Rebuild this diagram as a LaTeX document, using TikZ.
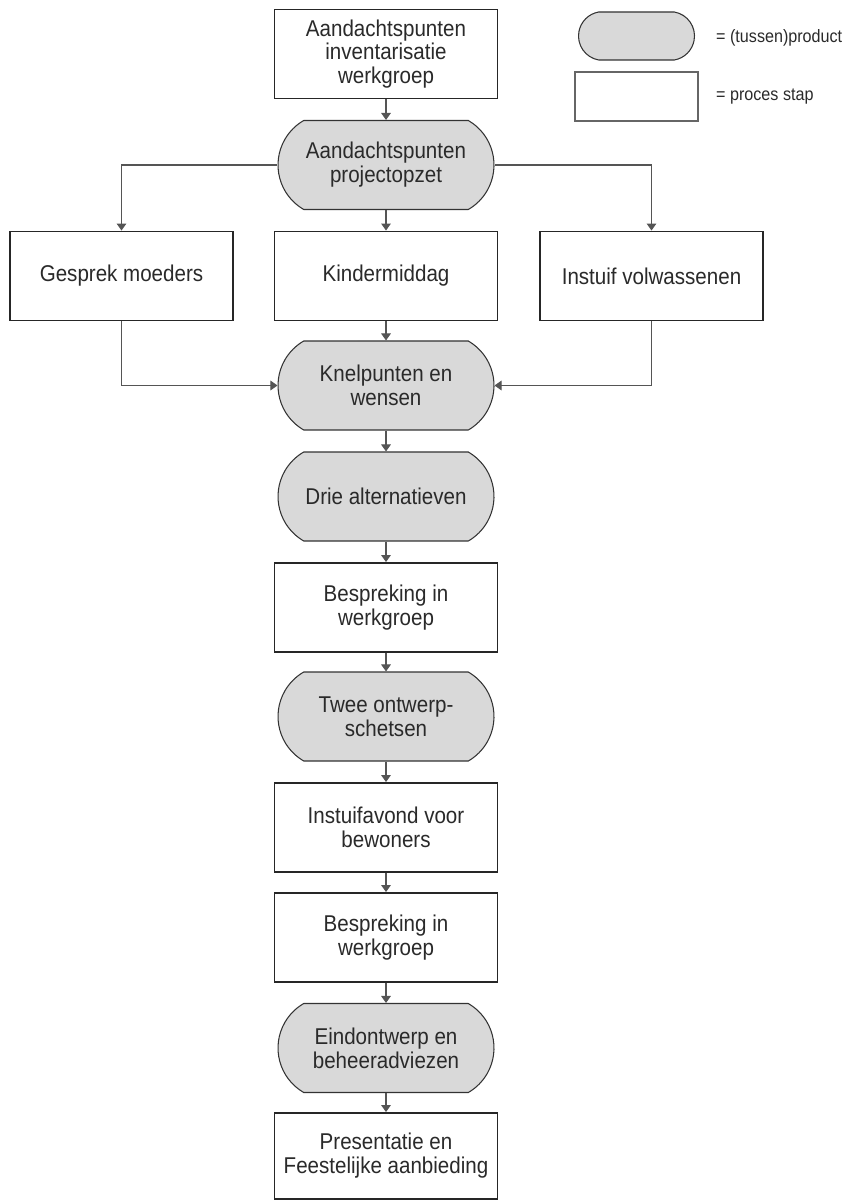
\documentclass[tikz,border=0pt]{standalone}
\usepackage{fontspec}
\setmainfont{Liberation Sans}[FakeStretch=0.9]
\usepackage{tikz}
\usetikzlibrary{shapes.misc,arrows.meta}

\definecolor{vulgrijs}{HTML}{D9D9D9}
\definecolor{tekstgrijs}{HTML}{2A2A2A}
\definecolor{lijngrijs}{HTML}{555555}

\begin{document}
\begin{tikzpicture}[
    stap/.style={draw=black!85, line width=1.1pt, fill=white, rectangle, minimum width=4.46cm, minimum height=1.78cm, align=center, inner sep=2pt, text=tekstgrijs, font=\fontsize{13}{13.6}\selectfont},
    product/.style={draw=black!80, line width=0.6pt, fill=vulgrijs, rounded rectangle, rounded rectangle arc length=120, minimum width=4.46cm, minimum height=1.78cm, align=center, inner sep=2pt, text=tekstgrijs, font=\fontsize{13}{13.6}\selectfont},
    pijl/.style={draw=lijngrijs, line width=0.6pt, -{Triangle[length=4pt,width=5.5pt]}},
    uitleg/.style={anchor=west, text=tekstgrijs, font=\fontsize{10.2}{12}\selectfont}
  ]
      \useasboundingbox (0,0) rectangle (17.3,-24);
      % legenda
      \node[product, rounded rectangle arc length=160, minimum width=2.46cm, minimum height=0.96cm] (legproduct) at (12.73,-0.72) {};
      \node[uitleg] (legproducttekst) at (14.2,-0.76) {= (tussen)product};
      \node[stap, line width=0.6pt, draw=black!60, minimum width=2.46cm, minimum height=0.98cm] (legstap) at (12.73,-1.93) {};
      \node[uitleg] (legstaptekst) at (14.2,-1.94) {= proces stap};
      % schema
      \node[stap] (inventarisatie) at (7.72,-1.08) {Aandachtspunten\\inventarisatie\\werkgroep};
      \node[product] (projectopzet) at (7.72,-3.30) {Aandachtspunten\\projectopzet};
      \node[stap] (gesprek) at (2.43,-5.52) {Gesprek moeders};
      \node[stap] (kindermiddag) at (7.72,-5.52) {Kindermiddag};
      \node[stap] (instuif) at (13.03,-5.52) {Instuif volwassenen};
      \node[product] (knelpunten) at (7.72,-7.71) {Knelpunten en\\wensen};
      \node[product] (alternatieven) at (7.72,-9.93) {Drie alternatieven};
      \node[stap] (bespreking) at (7.72,-12.15) {Bespreking in\\werkgroep};
      \node[product] (schetsen) at (7.72,-14.33) {Twee ontwerp-\\schetsen};
      \node[stap] (instuifavond) at (7.72,-16.55) {Instuifavond voor\\bewoners};
      \node[stap] (besprekingtwee) at (7.72,-18.75) {Bespreking in\\werkgroep};
      \node[product] (eindontwerp) at (7.72,-20.96) {Eindontwerp en\\beheeradviezen};
      \node[stap, minimum height=1.72cm] (presentatie) at (7.72,-23.12) {Presentatie en\\Feestelijke aanbieding};
      % verbindingen
      \draw[pijl] (projectopzet.west) -| (gesprek.north);
      \draw[pijl] (projectopzet.east) -| (instuif.north);
      \draw[pijl] (gesprek.south) |- (knelpunten.west);
      \draw[pijl] (instuif.south) |- (knelpunten.east);
      \foreach \van/\naar in {inventarisatie/projectopzet, projectopzet/kindermiddag, kindermiddag/knelpunten, knelpunten/alternatieven, alternatieven/bespreking, bespreking/schetsen, schetsen/instuifavond, instuifavond/besprekingtwee, besprekingtwee/eindontwerp, eindontwerp/presentatie} {\draw[pijl] (\van.south) -- (\naar.north);}
   \end{tikzpicture}
\end{document}
